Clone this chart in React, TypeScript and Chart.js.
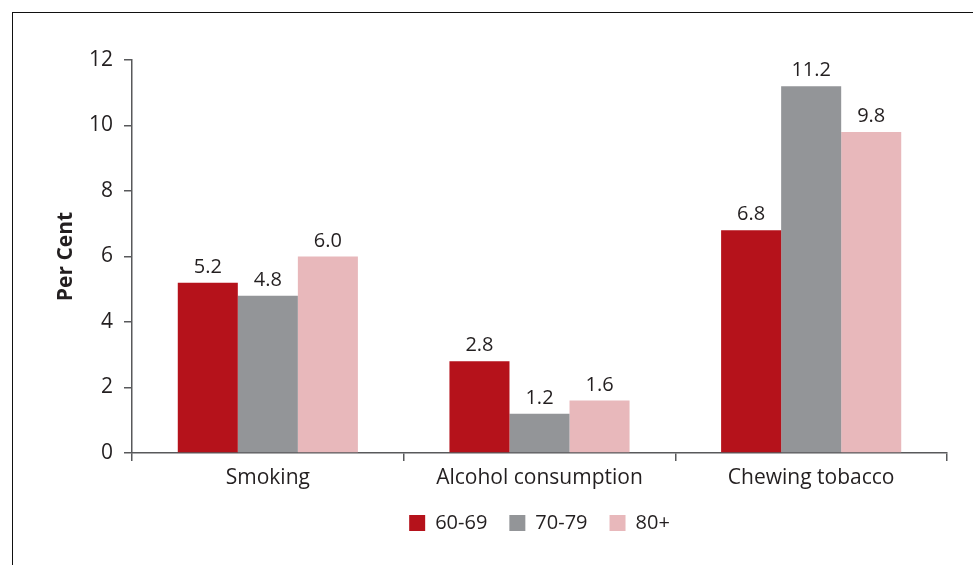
import React, { useEffect, useRef } from "react";
import { Chart, registerables } from "chart.js";

Chart.register(...registerables);

const categories = ["Smoking", "Alcohol consumption", "Chewing tobacco"];
const seriesNames = ["60-69", "70-79", "80+"];
const values6069 = [5.2, 2.8, 6.8];
const values7079 = [4.8, 1.2, 11.2];
const values80plus = [6.0, 1.6, 9.8];
const seriesColors = ["#B5121B", "#939598", "#E8B8BB"];

const FONT = "'Open Sans', sans-serif";
const TEXT = "#231F20";
const AXIS = "#58595B";

const valueLabels = {
  id: "valueLabels",
  afterDatasetsDraw(chart: any) {
    const ctx = chart.ctx;
    ctx.save();
    ctx.font = `20px ${FONT}`;
    ctx.fillStyle = TEXT;
    ctx.textAlign = "center";
    ctx.textBaseline = "alphabetic";
    chart.data.datasets.forEach((ds: any, i: number) => {
      const meta = chart.getDatasetMeta(i);
      meta.data.forEach((bar: any, j: number) => {
        const v = ds.data[j];
        ctx.fillText(Number(v).toFixed(1), bar.x, bar.y - 10);
      });
    });
    ctx.restore();
  },
};

export default function App() {
  const canvasRef = useRef<HTMLCanvasElement | null>(null);

  useEffect(() => {
    const canvas = canvasRef.current;
    if (!canvas) return;
    const data = [values6069, values7079, values80plus];
    const chart = new Chart(canvas, {
      type: "bar",
      data: {
        labels: categories,
        datasets: seriesNames.map((name, i) => ({
          label: name,
          data: data[i],
          backgroundColor: seriesColors[i],
          borderWidth: 0,
          categoryPercentage: 0.663,
          barPercentage: 1.0,
        })),
      },
      options: {
        animation: false,
        responsive: true,
        maintainAspectRatio: false,
        layout: { padding: { left: 0, right: 26, top: 60, bottom: 22 } },
        plugins: {
          tooltip: { enabled: false },
          legend: {
            position: "bottom",
            fullSize: false,
            labels: {
              boxWidth: 16,
              boxHeight: 16,
              padding: 22,
              color: TEXT,
              font: { family: FONT, size: 20 },
            },
          },
        },
        scales: {
          x: {
            afterFit: (scale: any) => {
              scale.height = 38;
            },
            border: { display: true, color: AXIS, width: 1.5 },
            grid: {
              display: true,
              drawOnChartArea: false,
              drawTicks: true,
              tickLength: 8,
              color: AXIS,
              lineWidth: 1.5,
              offset: true,
            },
            ticks: {
              color: TEXT,
              padding: 4,
              font: { family: FONT, size: 21 },
              maxRotation: 0,
            },
          },
          y: {
            min: 0,
            max: 12,
            afterFit: (scale: any) => {
              scale.width = 132;
            },
            border: { display: true, color: AXIS, width: 1.5 },
            grid: {
              display: true,
              drawOnChartArea: false,
              drawTicks: true,
              tickLength: 8,
              color: AXIS,
              lineWidth: 1.5,
            },
            ticks: {
              stepSize: 2,
              color: TEXT,
              padding: 11,
              font: { family: FONT, size: 21 },
            },
            title: {
              display: true,
              text: "Per Cent",
              color: TEXT,
              font: { family: FONT, size: 21, weight: "bold" },
              padding: { top: 53, bottom: 0 },
            },
          },
        },
      },
      plugins: [valueLabels],
    });
    return () => chart.destroy();
  }, []);

  return (
    <div
      style={{
        position: "fixed",
        left: 0,
        top: 0,
        width: 973,
        height: 565,
        overflow: "hidden",
        background: "#ffffff",
      }}
    >
      <div
        style={{
          position: "absolute",
          left: 12,
          top: 11.5,
          width: 2000,
          height: 2000,
          borderLeft: "1.5px solid #111111",
          borderTop: "1.5px solid #111111",
        }}
      />
      <div style={{ position: "absolute", left: 0, top: 0, width: 973, height: 565 }}>
        <canvas ref={canvasRef} />
      </div>
    </div>
  );
}
